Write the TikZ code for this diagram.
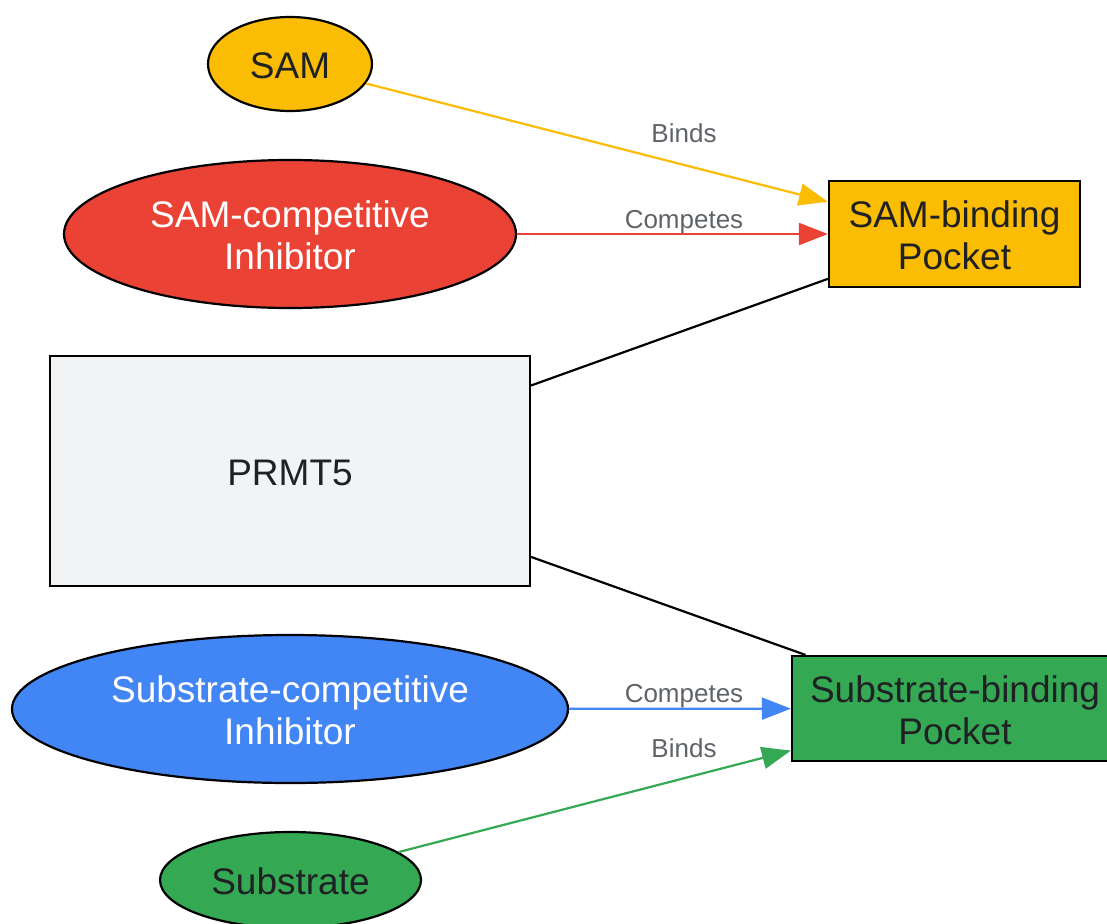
\documentclass[tikz,border=0pt]{standalone}
\usepackage{fontspec}
\setmainfont{Liberation Sans}
\usetikzlibrary{shapes.geometric,arrows.meta}
\definecolor{gyellow}{HTML}{FBBC04}
\definecolor{gred}{HTML}{EA4335}
\definecolor{gblue}{HTML}{4285F4}
\definecolor{ggreen}{HTML}{34A853}
\definecolor{ggray}{HTML}{F1F3F4}
\definecolor{gtext}{HTML}{202124}
\definecolor{glabel}{HTML}{5F6368}
\newcommand{\toppad}{\rule{0pt}{30pt}}
\tikzset{
  base/.style={draw=black, line width=2.2pt, inner sep=0pt, align=center,
    font=\fontsize{37}{42}\selectfont, text=gtext},
  oval/.style={base, ellipse},
  boxnode/.style={base, rectangle},
  lbl/.style={font=\fontsize{26}{30}\selectfont, text=glabel, anchor=base, inner sep=0pt},
  conn/.style={line width=2.2pt, -{Triangle[length=29pt,width=22pt]}},
  plain/.style={line width=2.2pt, draw=black}
}
\begin{document}
\begin{tikzpicture}[x=1pt,y=-1pt]
\useasboundingbox (0,0) rectangle (1107,923);
\clip (0,0) rectangle (1107,923);
% nodes
\node[oval, fill=gyellow, minimum width=164pt, minimum height=94pt] (sam) at (290,64) {\toppad SAM};
\node[oval, fill=gred, text=white, minimum width=452pt, minimum height=148pt] (samcomp) at (290,234) {\toppad SAM-competitive\\Inhibitor};
\node[boxnode, fill=ggray, minimum width=480pt, minimum height=230pt] (prmt) at (290,471) {\toppad PRMT5};
\node[oval, fill=gblue, text=white, minimum width=556pt, minimum height=148pt] (subcomp) at (290,709) {\toppad Substrate-competitive\\Inhibitor};
\node[oval, fill=ggreen, minimum width=261pt, minimum height=96pt] (sub) at (290.5,880) {\toppad Substrate};
\node[boxnode, fill=gyellow, minimum width=251pt, minimum height=106pt] (sampocket) at (954.5,234) {\toppad SAM-binding\\Pocket};
\node[boxnode, fill=ggreen, minimum width=326pt, minimum height=105pt] (subpocket) at (955,708.5) {\toppad Substrate-binding\\Pocket};
% connectors
\draw[conn, draw=gyellow, fill=gyellow] (sam) -- (sampocket);
\draw[conn, draw=gred, fill=gred] (samcomp) -- (sampocket);
\draw[plain] (prmt) -- (sampocket);
\draw[plain] (prmt) -- (subpocket);
\draw[conn, draw=gblue, fill=gblue] (subcomp) -- (subpocket);
\draw[conn, draw=ggreen, fill=ggreen] (sub) -- (subpocket);
% edge labels
\node[lbl] (l1) at (684,142) {Binds};
\node[lbl] (l2) at (684,228) {Competes};
\node[lbl] (l3) at (684,702) {Competes};
\node[lbl] (l4) at (684,757) {Binds};
\end{tikzpicture}
\end{document}
